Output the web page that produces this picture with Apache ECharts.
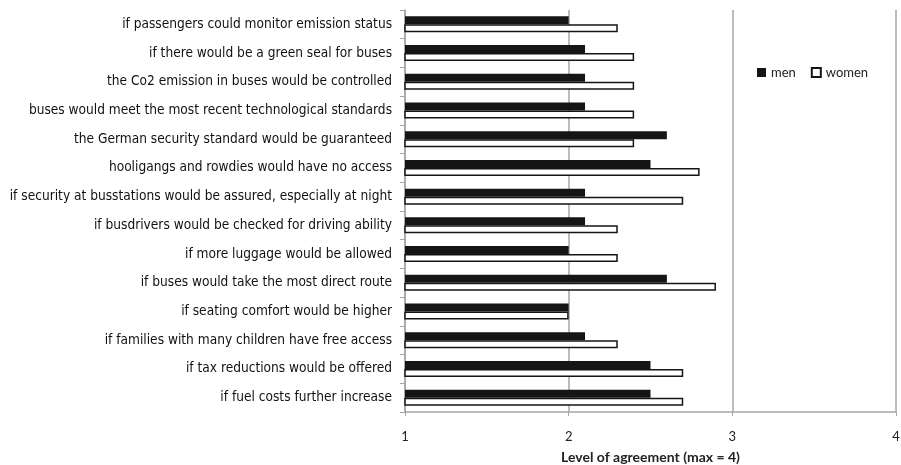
<!DOCTYPE html>
<html>
<head>
<meta charset="utf-8">
<script src="https://cdn.jsdelivr.net/npm/echarts@6/dist/echarts.min.js"></script>
<style>
  html, body { margin: 0; padding: 0; background: #fff; }
  #chart { width: 901px; height: 465px; }
</style>
</head>
<body>
<div id="chart"></div>
<script>
// Reasons to use the bus, listed top to bottom
const categories = [
  'if passengers could monitor emission status',
  'if there would be a green seal for buses',
  'the Co2 emission in buses would be controlled',
  'buses would meet the most recent technological standards',
  'the German security standard would be guaranteed',
  'hooligangs and rowdies would have no access',
  'if security at busstations would be assured, especially at night',
  'if busdrivers would be checked for driving ability',
  'if more luggage would be allowed',
  'if buses would take the most direct route',
  'if seating comfort would be higher',
  'if families with many children have free access',
  'if tax reductions would be offered',
  'if fuel costs further increase'
];
const men   = [2.0, 2.1, 2.1, 2.1, 2.6, 2.5, 2.1, 2.1, 2.0, 2.6, 2.0, 2.1, 2.5, 2.5];
const women = [2.3, 2.4, 2.4, 2.4, 2.4, 2.8, 2.7, 2.3, 2.3, 2.9, 2.0, 2.3, 2.7, 2.7];
const xTicks = [1, 2, 3, 4];

const chart = echarts.init(document.getElementById('chart'), null, { renderer: 'canvas' });
const axisGray = '#a6a6a6';
const uiFont = 'Lato, "Open Sans", sans-serif';

chart.setOption({
  animation: false,
  backgroundColor: '#ffffff',
  grid: { left: 405, right: 5, top: 10, bottom: 53, containLabel: false, outerBoundsMode: 'none' },
  legend: {
    data: ['men', 'women'],
    left: 757,
    top: 66,
    padding: 0,
    icon: 'rect',
    itemWidth: 9,
    itemHeight: 9,
    itemGap: 15,
    textStyle: { fontFamily: uiFont, fontSize: 13, color: '#222' }
  },
  xAxis: {
    type: 'value',
    min: xTicks[0],
    max: xTicks[xTicks.length - 1],
    interval: 1,
    name: 'Level of agreement (max = 4)',
    nameLocation: 'middle',
    nameGap: 38,
    nameTextStyle: { fontFamily: uiFont, fontSize: 14, fontWeight: 'bold', color: '#222' },
    axisLine: { show: true, lineStyle: { color: axisGray, width: 1.5 } },
    axisTick: { show: true, length: 4, lineStyle: { color: axisGray } },
    axisLabel: { margin: 18, fontFamily: uiFont, fontSize: 13, color: '#222' },
    splitLine: { show: true, lineStyle: { color: axisGray, width: 1.5 } }
  },
  yAxis: {
    type: 'category',
    data: categories,
    inverse: true,
    axisLine: { show: true, lineStyle: { color: axisGray, width: 1.5 } },
    axisTick: { show: true, length: 5, inside: false, lineStyle: { color: axisGray } },
    axisLabel: {
      margin: 13,
      fontFamily: '"Liberation Sans Narrow", "Arial Narrow", "DejaVu Sans Condensed", sans-serif',
      fontSize: 13.6,
      color: '#111'
    },
    splitLine: { show: false }
  },
  series: [
    {
      name: 'men',
      type: 'bar',
      data: men,
      barWidth: 8,
      barGap: '0%',
      itemStyle: { color: '#151515', borderColor: '#151515', borderWidth: 0 }
    },
    {
      name: 'women',
      type: 'bar',
      data: women,
      barWidth: 8,
      barGap: '0%',
      itemStyle: { color: '#ffffff', borderColor: '#151515', borderWidth: 1.5 }
    }
  ]
});
</script>
</body>
</html>
